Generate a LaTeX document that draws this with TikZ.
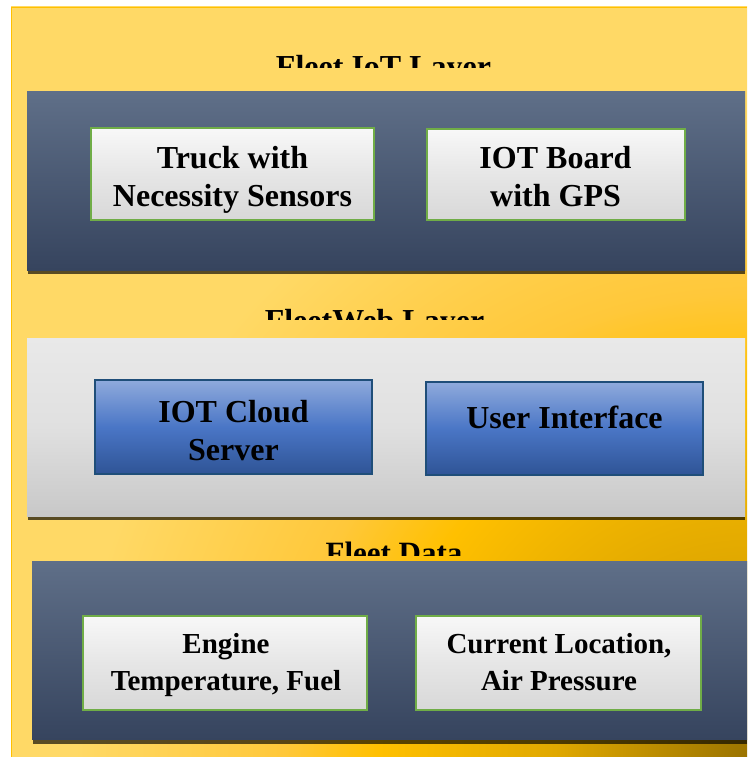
\documentclass[tikz,border=0pt]{standalone}
\usepackage{fontspec}
\setmainfont{Liberation Serif}
\definecolor{bgA}{HTML}{9A7300}
\definecolor{bgB}{HTML}{E0A800}
\definecolor{bgC}{HTML}{FFC000}
\definecolor{bgD}{HTML}{FFC83A}
\definecolor{bgE}{HTML}{FFD966}
\definecolor{bgLine}{HTML}{FFC000}
\definecolor{pnlTop}{HTML}{5F6F88}
\definecolor{pnlBot}{HTML}{36445E}
\definecolor{gryTop}{HTML}{E9E9E9}
\definecolor{gryMid}{HTML}{E0E0E0}
\definecolor{gryBot}{HTML}{C8C8C8}
\definecolor{lbTop}{HTML}{F8F8F8}
\definecolor{lbMid}{HTML}{E6E6E6}
\definecolor{lbBot}{HTML}{D8D8D8}
\definecolor{boxGreen}{HTML}{70AD47}
\definecolor{blTop}{HTML}{8FAADC}
\definecolor{blMid}{HTML}{4A76C6}
\definecolor{blBot}{HTML}{2F5496}
\definecolor{blLine}{HTML}{1F4E79}
\pgfdeclareradialshading{bgrad}{\pgfpoint{0bp}{0bp}}{%
 color(0bp)=(bgA); color(6bp)=(bgB); color(11.5bp)=(bgC); color(14.5bp)=(bgD); color(21bp)=(bgE); color(25bp)=(bgE); color(50bp)=(bgE)}
\tikzset{
 panelshadow/.style={fill=black, fill opacity=0.65, draw=none},
 darkpanel/.style={draw=none, inner sep=0pt, top color=pnlTop, bottom color=pnlBot},
 graypanel/.style={draw=none, inner sep=0pt, top color=gryTop, bottom color=gryBot, middle color=gryMid},
 lightbox/.style={draw=boxGreen, line width=2.2pt, inner sep=0pt, top color=lbTop, bottom color=lbBot, middle color=lbMid},
 bluebox/.style={draw=blLine, line width=2pt, inner sep=0pt, top color=blTop, bottom color=blBot, middle color=blMid},
 bigtxt/.style={inner sep=0pt, anchor=base, font=\fontsize{32}{38}\selectfont\bfseries},
 smalltxt/.style={inner sep=0pt, anchor=base, font=\fontsize{29}{37}\selectfont\bfseries},
 titletxt/.style={inner sep=0pt, anchor=base, font=\fontsize{32}{38}\selectfont\bfseries},
}
\newcommand{\twolines}[2]{\begin{tabular}[t]{@{}c@{}}#1\\#2\end{tabular}}
\begin{document}
\begin{tikzpicture}[x=1pt,y=-1pt]
\useasboundingbox (0,0) rectangle (747,757);
\fill[white] (0,0) rectangle (747,757);
% background
\begin{scope}
\clip (11,7) rectangle (747,757);
\shade[shading=bgrad] (-53,-43) rectangle (1547,1557);
\end{scope}
\draw[bgLine, line width=1.2pt] (11.6,757) -- (11.6,7.6) -- (747,7.6);
% titles (clipped)
\begin{scope}
\clip (0,0) rectangle (747,67.5);
\node[titletxt] (title1) at (383.5,78) {Fleet IoT Layer};
\end{scope}
\begin{scope}
\clip (0,0) rectangle (747,319.5);
\node[titletxt] (title2) at (374.5,331) {FleetWeb Layer};
\end{scope}
\begin{scope}
\clip (0,0) rectangle (747,555);
\node[titletxt, font=\fontsize{31}{37}\selectfont\bfseries] (title3) at (394,563.5) {Fleet Data};
\end{scope}
% panel 1
\fill[panelshadow] (28,96) rectangle (745,274);
\node[darkpanel, minimum width=718pt, minimum height=178pt] (iotpanel) at (386,181) {};
% panel 2
\fill[panelshadow] (28,342) rectangle (745,520);
\node[graypanel, minimum width=718pt, minimum height=178pt] (webpanel) at (386,427) {};
% panel 3
\fill[panelshadow] (33,565) rectangle (747,743.5);
\node[darkpanel, minimum width=715pt, minimum height=178.5pt] (datapanel) at (389.5,650.25) {};
% boxes
\node[lightbox, minimum width=283pt, minimum height=92pt] (truck) at (232.5,174) {};
\node[lightbox, minimum width=258pt, minimum height=91pt] (board) at (556,174.5) {};
\node[bluebox, minimum width=277pt, minimum height=94pt] (cloud) at (233.5,427) {};
\node[bluebox, minimum width=277pt, minimum height=93pt] (ui) at (564.5,428.5) {};
\node[lightbox, minimum width=284pt, minimum height=94pt] (engine) at (225,663) {};
\node[lightbox, minimum width=285pt, minimum height=94pt] (current) at (558.5,663) {};
% texts
\node[bigtxt] (truck-t) at (232.5,168) {\twolines{Truck with}{Necessity Sensors}};
\node[bigtxt] (board-t) at (555.5,168) {\twolines{IOT Board}{with GPS}};
\node[bigtxt] (cloud-t) at (233.5,422) {\twolines{IOT Cloud}{Server}};
\node[bigtxt] (ui-t) at (564.5,428) {User Interface};
\node[smalltxt] (engine-t) at (226,653) {\twolines{Engine}{Temperature, Fuel}};
\node[smalltxt] (current-t) at (559,653) {\twolines{Current Location,}{Air Pressure}};
\end{tikzpicture}
\end{document}
